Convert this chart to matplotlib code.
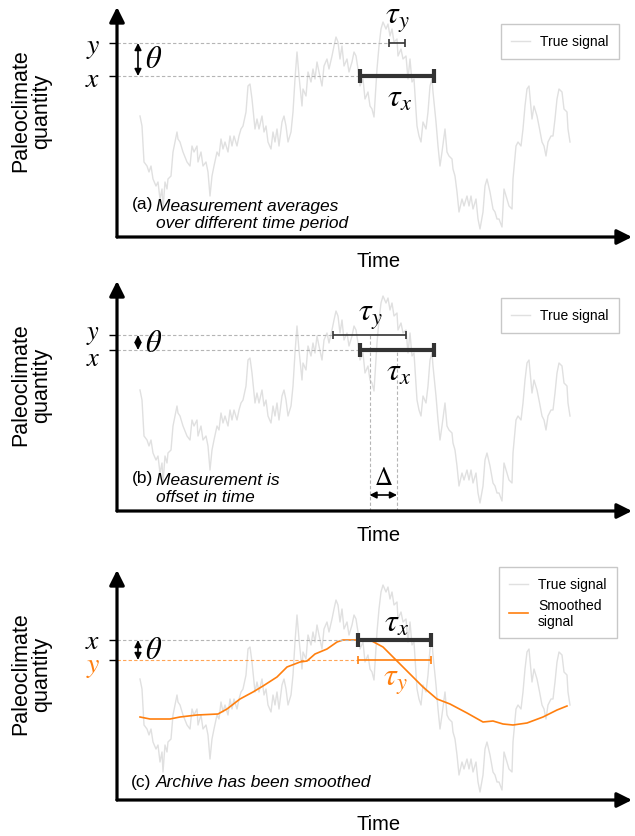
import numpy as np
import matplotlib
matplotlib.use("Agg")
import matplotlib.pyplot as plt

plt.rcParams["font.family"] = ["Liberation Sans", "DejaVu Sans"]
plt.rcParams["mathtext.fontset"] = "stix"

# ---- data (arbitrary time / quantity units) ----
time = [0, 2, 4, 7, 9, 11, 13, 16, 18, 20, 22, 23, 25, 27, 28, 31, 33, 35, 37, 38,
        40, 43, 47, 50, 52, 54, 57, 58, 61, 63, 66, 68, 70, 72, 74, 77, 79, 81, 83, 85,
        88, 90, 92, 94, 97, 99, 101, 103, 106, 108, 110, 112, 115, 117, 119, 122, 124, 126, 128, 131,
        133, 135, 137, 139, 142, 144, 146, 148, 151, 153, 155, 157, 159, 162, 163, 166, 168, 171, 173, 175,
        177, 179, 182, 184, 187, 189, 192, 194, 196, 198, 200, 202, 204, 207, 209, 212, 214, 216, 218, 220,
        223, 225, 228, 230, 232, 234, 237, 239, 241, 243, 246, 248, 250, 252, 254, 257, 258, 261, 263, 266,
        268, 270, 272, 274, 277, 279, 281, 283, 286, 288, 290, 292, 293, 296, 298, 300, 302, 305, 307, 309,
        312, 313, 315, 317, 319, 322, 324, 327, 329, 331, 333, 336, 338, 340, 343, 345, 347, 350, 353, 355,
        357, 359, 362, 364, 367, 369, 372, 373, 376, 378, 381, 383, 385, 387, 389, 392, 394, 397, 399, 402,
        404, 406, 408, 411, 413, 415, 417, 419, 422, 424, 427, 428, 430]
true_signal = [121, 111, 75, 71, 65, 71, 58, 51, 55, 38, 48, 28, 55, 48, 58, 61, 85, 95, 105, 98,
               95, 85, 75, 71, 91, 85, 91, 75, 85, 71, 75, 65, 41, 61, 71, 85, 81, 98, 88, 95,
               85, 101, 91, 101, 91, 101, 108, 111, 125, 151, 153, 138, 108, 118, 108, 121, 105, 111, 95, 88,
               105, 95, 108, 91, 115, 121, 111, 95, 105, 125, 158, 185, 161, 131, 148, 141, 165, 155, 168, 158,
               175, 165, 151, 171, 178, 168, 181, 191, 200, 195, 178, 191, 171, 178, 165, 175, 185, 181, 168, 151,
               158, 138, 145, 131, 128, 120, 168, 191, 208, 215, 208, 213, 201, 208, 195, 198, 181, 188, 178, 181,
               158, 178, 155, 158, 111, 101, 95, 115, 108, 125, 151, 158, 145, 115, 91, 71, 85, 108, 85, 81,
               78, 68, 61, 45, 25, 38, 31, 41, 31, 41, 28, 38, 18, 8, 25, 51, 58, 45, 28, 25,
               18, 18, 10, 48, 38, 31, 28, 58, 91, 95, 91, 108, 131, 148, 151, 118, 131, 121, 111, 95,
               91, 81, 95, 101, 101, 118, 138, 148, 145, 128, 125, 108, 95]
smooth_time = [0, 10, 30, 40, 57, 78, 87, 100, 113, 123, 137, 147, 160, 167, 175, 187, 197, 203,
               210, 217, 230, 243, 257, 270, 283, 297, 310, 327, 343, 353, 363, 373, 387, 403, 417, 427]
smooth_signal = [83, 81, 81, 83, 85, 86, 91, 101, 108, 114, 123, 133, 138, 139, 146, 151, 158, 160,
                 160, 160, 160, 153, 139, 126, 113, 101, 96, 87, 78, 79, 76, 75, 77, 83, 90, 94]

panel_tags = ["(a)", "(b)", "(c)"]
panel_notes = ["Measurement averages\nover different time period",
               "Measurement is\noffset in time",
               "Archive has been smoothed"]

# measurement levels (x = measured, y = other) and averaging windows per panel
x_levels = [161, 161, 160]
y_levels = [194, 176, 140]
tau_x_windows = [(220, 294), (220, 294), (218, 291)]
tau_y_windows = [(249, 265), (193, 266), (218, 291)]

# ---- style ----
INK = "#000000"
BAR = "#333333"
SIG = "#e0e0e0"
DASH = "#b5b5b5"
ORANGE = "#ff7f0e"

W, H = 635, 837
AX_BOTTOM_PX = [238, 512, 801]
XLIM = (-23, 492)
YLIM = (0, 230)
LEG = dict(borderaxespad=0, fontsize=10, frameon=True, fancybox=False,
           edgecolor="#c8c8c8", framealpha=1, handlelength=1.4,
           handletextpad=0.7, borderpad=0.75)

fig = plt.figure(figsize=(W / 100, H / 100), dpi=100)
fig.patch.set_facecolor("white")


def base_axes(bottom_px):
    ax = fig.add_axes([117 / W, (H - bottom_px) / H, 515 / W, 230 / H])
    ax.set_xlim(*XLIM)
    ax.set_ylim(*YLIM)
    for s in ax.spines.values():
        s.set_visible(False)
    ax.set_xticks([])
    ax.patch.set_alpha(0)
    head = "-|>,head_length=0.6,head_width=0.3"
    for end in [(0, 1), (1, 0)]:
        ax.annotate("", xy=end, xytext=(0, 0), xycoords="axes fraction",
                    arrowprops=dict(arrowstyle=head, lw=2.3, color=INK,
                                    mutation_scale=15, shrinkA=0, shrinkB=0),
                    annotation_clip=False)
    ax.text(-0.167, 0.552, "Paleoclimate\nquantity", rotation=90, ha="center",
            va="center", fontsize=15.5, linespacing=1.0, transform=ax.transAxes)
    ax.text(0.507, -0.104, "Time", ha="center", va="center", fontsize=14.5,
            transform=ax.transAxes)
    ax.tick_params(axis="y", length=6, width=1, labelleft=False)
    return ax


def window_bar(ax, win, level, color, lw, cap):
    c = (win[0] + win[1]) / 2
    ax.errorbar([c], [level], xerr=[[c - win[0]], [win[1] - c]], fmt="none",
                ecolor=color, elinewidth=lw, capsize=cap, capthick=lw, zorder=4)


def common(ax, i, note_y, tag_x=-8):
    ax.plot(time, true_signal, color=SIG, lw=1.0, label="True signal", zorder=1)
    xl, yl = x_levels[i], y_levels[i]
    ax.set_yticks(sorted([xl, yl]))
    ax.annotate("", xy=(-2, xl), xytext=(-2, yl),
                arrowprops=dict(arrowstyle="<|-|>,head_length=0.4,head_width=0.2",
                                mutation_scale=10, lw=1.2, color=INK,
                                shrinkA=0, shrinkB=0))
    ax.text(5, (xl + yl) / 2, r"$\theta$", fontsize=22, ha="left", va="center")
    ax.text(tag_x, note_y, panel_tags[i], fontsize=12.5, ha="left", va="center")


def level_label(ax, text, level, color=INK, size=20):
    ax.text(-47, level, text, fontsize=size, ha="center", va="center_baseline",
            color=color)


# ---------------- (a) ----------------
ax = base_axes(AX_BOTTOM_PX[0])
common(ax, 0, 33)
ax.text(16, 23, panel_notes[0], fontsize=12.5, style="italic", ha="left",
        va="center", linespacing=1.15)
ax.hlines(y_levels[0], XLIM[0], tau_y_windows[0][0], colors=DASH, lw=0.8, linestyles=(0, (3, 2)))
ax.hlines(x_levels[0], XLIM[0], tau_x_windows[0][0], colors=DASH, lw=0.8, linestyles=(0, (3, 2)))
window_bar(ax, tau_y_windows[0], y_levels[0], BAR, 1.2, 3)
window_bar(ax, tau_x_windows[0], x_levels[0], BAR, 3, 4.7)
ax.text(257, 218, r"$\tau_y$", fontsize=23, ha="center", va="center")
ax.text(260, 139, r"$\tau_x$", fontsize=23, ha="center", va="center")
level_label(ax, "$y$", y_levels[0])
level_label(ax, "$x$", x_levels[0])
ax.legend(loc="upper right", bbox_to_anchor=(0.975, 0.926), labelspacing=0.7, **LEG)

# ---------------- (b) ----------------
ax = base_axes(AX_BOTTOM_PX[1])
common(ax, 1, 33)
ax.text(16, 23, panel_notes[1], fontsize=12.5, style="italic", ha="left",
        va="center", linespacing=1.15)
ty, tx = tau_y_windows[1], tau_x_windows[1]
cy, cx = (ty[0] + ty[1]) / 2, (tx[0] + tx[1]) / 2
ax.hlines(y_levels[1], XLIM[0], ty[0], colors=DASH, lw=0.8, linestyles=(0, (3, 2)))
ax.hlines(x_levels[1], XLIM[0], tx[0], colors=DASH, lw=0.8, linestyles=(0, (3, 2)))
ax.vlines(cy, 0, y_levels[1], colors=DASH, lw=0.8, linestyles=(0, (3, 2)))
ax.vlines(cx, 0, x_levels[1], colors=DASH, lw=0.8, linestyles=(0, (3, 2)))
window_bar(ax, ty, y_levels[1], BAR, 1.2, 3)
window_bar(ax, tx, x_levels[1], BAR, 3, 4.7)
ax.annotate("", xy=(cx, 16), xytext=(cy, 16),
            arrowprops=dict(arrowstyle="<|-|>,head_length=0.4,head_width=0.2",
                            mutation_scale=10, lw=1.2, color=INK, shrinkA=0, shrinkB=0))
ax.text((cx + cy) / 2, 34, r"$\Delta$", fontsize=18, ha="center", va="center")
ax.text(230, 195, r"$\tau_y$", fontsize=23, ha="center", va="center")
ax.text(259, 139, r"$\tau_x$", fontsize=23, ha="center", va="center")
level_label(ax, "$y$", y_levels[1] + 5, size=19)
level_label(ax, "$x$", x_levels[1] - 5, size=19)
ax.legend(loc="upper right", bbox_to_anchor=(0.975, 0.926), labelspacing=0.7, **LEG)

# ---------------- (c) ----------------
ax = base_axes(AX_BOTTOM_PX[2])
common(ax, 2, 18, tag_x=-9)
ax.text(16, 18, panel_notes[2], fontsize=12.5, style="italic", ha="left", va="center")
ax.plot(smooth_time, smooth_signal, color=ORANGE, lw=1.2, label="Smoothed\nsignal", zorder=2)
ax.hlines(x_levels[2], XLIM[0], tau_x_windows[2][0], colors=DASH, lw=0.8, linestyles=(0, (3, 2)))
ax.hlines(y_levels[2], XLIM[0], tau_y_windows[2][0], colors=ORANGE, lw=0.8,
          linestyles=(0, (3, 2)), alpha=0.7)
window_bar(ax, tau_x_windows[2], x_levels[2], BAR, 3, 4.7)
window_bar(ax, tau_y_windows[2], y_levels[2], ORANGE, 1.2, 3)
ax.text(257, 177, r"$\tau_x$", fontsize=23, ha="center", va="center")
ax.text(255, 119, r"$\tau_y$", fontsize=23, ha="center", va="center", color=ORANGE)
level_label(ax, "$x$", x_levels[2] + 2)
level_label(ax, "$y$", y_levels[2] - 2, color=ORANGE)
ax.legend(loc="upper right", bbox_to_anchor=(0.971, 1.013), labelspacing=0.45, **LEG)

fig.savefig("out.png", dpi=100, facecolor="white")
